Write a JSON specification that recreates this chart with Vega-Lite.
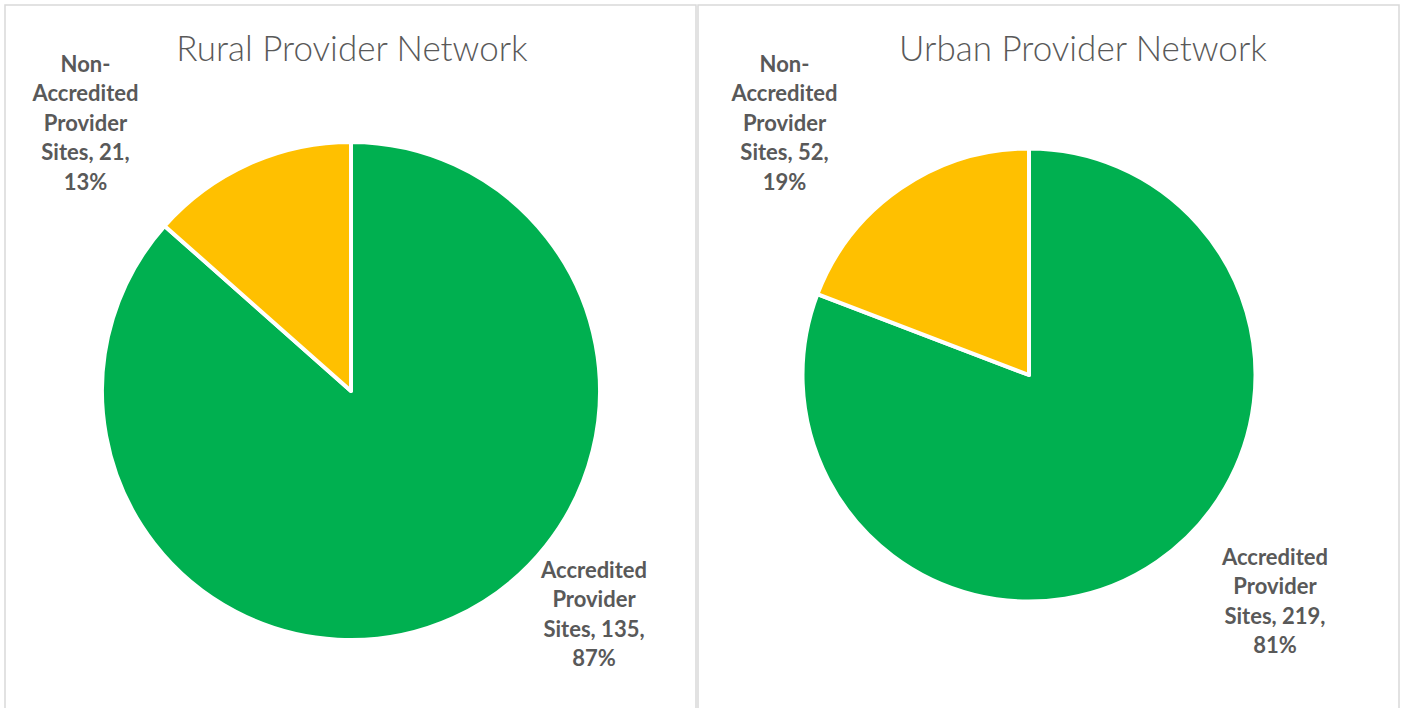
{
  "$schema": "https://vega.github.io/schema/vega-lite/v6.json",
  "width": 1404,
  "height": 713,
  "autosize": "none",
  "padding": {"left": 0, "right": 0, "top": 5, "bottom": -10},
  "background": "white",
  "config": {"view": {"stroke": null}},
  "data": {
    "values": [
      {"region": "Rural", "category": "Accredited Provider Sites", "sites": 135, "label": "Accredited\nProvider\nSites, 135,\n87%"},
      {"region": "Rural", "category": "Non-Accredited Provider Sites", "sites": 21, "label": "Non-\nAccredited\nProvider\nSites, 21,\n13%"},
      {"region": "Urban", "category": "Accredited Provider Sites", "sites": 219, "label": "Accredited\nProvider\nSites, 219,\n81%"},
      {"region": "Urban", "category": "Non-Accredited Provider Sites", "sites": 52, "label": "Non-\nAccredited\nProvider\nSites, 52,\n19%"}
    ]
  },
  "resolve": {"scale": {"x": "independent", "y": "independent", "theta": "independent"}, "axis": {"x": "independent"}},
  "layer": [
    {
      "transform": [{"filter": "datum.category === 'Accredited Provider Sites' && datum.region === 'Rural'"}],
      "mark": {"type": "rect", "filled": false, "stroke": "#d9d9d9", "strokeWidth": 1.5},
      "encoding": {
        "x": {"field": "region", "type": "nominal", "axis": null,
              "scale": {"type": "band", "paddingInner": 0, "paddingOuter": 0.51592, "align": 0.0070126}}
      }
    },
    {
      "transform": [{"filter": "datum.category === 'Accredited Provider Sites' && datum.region === 'Urban'"}],
      "mark": {"type": "rect", "filled": false, "stroke": "#d9d9d9", "strokeWidth": 1.5},
      "encoding": {
        "x": {"field": "region", "type": "nominal", "axis": null,
              "scale": {"type": "band", "paddingInner": 0, "paddingOuter": 0.50143, "align": 0.99289}}
      }
    },
    {
      "transform": [{"filter": "datum.region === 'Rural'"}],
      "encoding": {
        "x": {"field": "region", "type": "nominal",
              "scale": {"type": "point", "align": 0.25},
              "axis": {"orient": "top", "offset": -55, "domain": false, "ticks": false, "tickSize": 0, "grid": false, "labelAngle": 0,
                       "labelPadding": 0, "labelBaseline": "alphabetic", "labelAlign": "center", "labelLimit": 0, "labelOverlap": false,
                       "labelExpr": "datum.value + ' Provider Network'", "labelOffset": 0.5,
                       "labelFont": "Lato", "labelFontSize": 35, "labelFontWeight": 300, "labelColor": "#595959", "title": null}},
        "y": {"field": "region", "type": "nominal", "scale": {"type": "point", "align": 0.54137}, "axis": null},
        "theta": {"field": "sites", "type": "quantitative", "stack": true},
        "detail": {"field": "category", "type": "nominal"}
      },
      "layer": [
        {
          "mark": {"type": "arc", "radius": 249, "stroke": "white", "strokeWidth": 4, "strokeJoin": "round"},
          "encoding": {"color": {"field": "category", "type": "nominal", "legend": null,
                                 "scale": {"domain": ["Accredited Provider Sites", "Non-Accredited Provider Sites"], "range": ["#00B050", "#FFC000"]}}}
        },
        {
          "mark": {"type": "text", "radius": 357.5, "dx": -118.8, "font": "Lato", "fontSize": 22, "fontWeight": "bold", "fill": "#595959",
                   "lineBreak": "\n", "lineHeight": 29.4, "align": "center", "baseline": "middle"},
          "encoding": {"text": {"condition": {"test": "datum.category === 'Non-Accredited Provider Sites'", "field": "label", "type": "nominal"}, "value": ""}}
        },
        {
          "mark": {"type": "text", "radius": 197.4, "dx": 162, "font": "Lato", "fontSize": 22, "fontWeight": "bold", "fill": "#595959",
                   "lineBreak": "\n", "lineHeight": 29.4, "align": "center", "baseline": "middle"},
          "encoding": {"text": {"condition": {"test": "datum.category === 'Accredited Provider Sites'", "field": "label", "type": "nominal"}, "value": ""}}
        }
      ]
    },
    {
      "transform": [{"filter": "datum.region === 'Urban'"}],
      "encoding": {
        "x": {"field": "region", "type": "nominal",
              "scale": {"type": "point", "align": 0.73291},
              "axis": {"orient": "top", "offset": -55, "domain": false, "ticks": false, "tickSize": 0, "grid": false, "labelAngle": 0,
                       "labelPadding": 0, "labelBaseline": "alphabetic", "labelAlign": "center", "labelLimit": 0, "labelOverlap": false,
                       "labelExpr": "datum.value + ' Provider Network'", "labelOffset": 53.5,
                       "labelFont": "Lato", "labelFontSize": 35, "labelFontWeight": 300, "labelColor": "#595959", "title": null}},
        "y": {"field": "region", "type": "nominal", "scale": {"type": "point", "align": 0.51893}, "axis": null},
        "theta": {"field": "sites", "type": "quantitative", "stack": true},
        "detail": {"field": "category", "type": "nominal"}
      },
      "layer": [
        {
          "mark": {"type": "arc", "radius": 226.5, "stroke": "white", "strokeWidth": 4, "strokeJoin": "round"},
          "encoding": {"color": {"field": "category", "type": "nominal", "legend": null,
                                 "scale": {"domain": ["Accredited Provider Sites", "Non-Accredited Provider Sites"], "range": ["#00B050", "#FFC000"]}}}
        },
        {
          "mark": {"type": "text", "radius": 376.4, "dx": -31.1, "font": "Lato", "fontSize": 22, "fontWeight": "bold", "fill": "#595959",
                   "lineBreak": "\n", "lineHeight": 29.4, "align": "center", "baseline": "middle"},
          "encoding": {"text": {"condition": {"test": "datum.category === 'Non-Accredited Provider Sites'", "field": "label", "type": "nominal"}, "value": ""}}
        },
        {
          "mark": {"type": "text", "radius": 222.2, "dx": 120, "font": "Lato", "fontSize": 22, "fontWeight": "bold", "fill": "#595959",
                   "lineBreak": "\n", "lineHeight": 29.4, "align": "center", "baseline": "middle"},
          "encoding": {"text": {"condition": {"test": "datum.category === 'Accredited Provider Sites'", "field": "label", "type": "nominal"}, "value": ""}}
        }
      ]
    }
  ]
}
